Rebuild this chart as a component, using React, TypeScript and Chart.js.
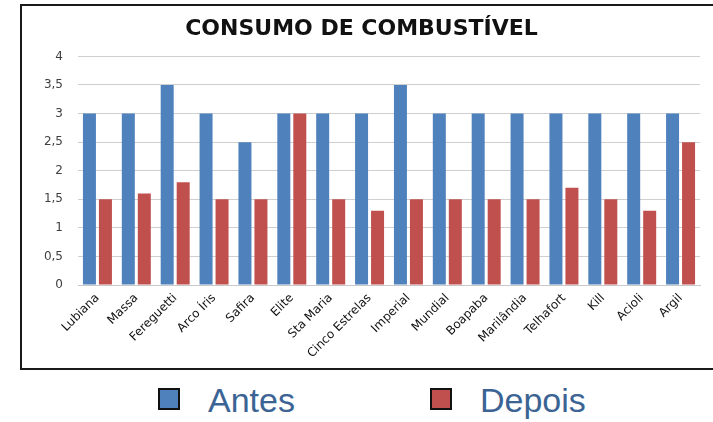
import React, { useEffect, useRef } from "react";
import { Chart, registerables } from "chart.js";

Chart.register(...registerables);

const categories = [
  "Lubiana", "Massa", "Fereguetti", "Arco Íris", "Safira", "Elite", "Sta Maria", "Cinco Estrelas",
  "Imperial", "Mundial", "Boapaba", "Marilândia", "Telhafort", "Kill", "Acioli", "Argil",
];
const antes = [3, 3, 3.5, 3, 2.5, 3, 3, 3, 3.5, 3, 3, 3, 3, 3, 3, 3];
const depois = [1.5, 1.6, 1.8, 1.5, 1.5, 3, 1.5, 1.3, 1.5, 1.5, 1.5, 1.5, 1.7, 1.5, 1.3, 2.5];
const seriesNames = ["Antes", "Depois"];
const seriesColors = ["#4F81BD", "#C0504D"];
const titleText = "CONSUMO DE COMBUSTÍVEL";

export default function App() {
  const ref = useRef<HTMLCanvasElement | null>(null);

  useEffect(() => {
    if (!ref.current) return;
    const chart = new Chart(ref.current, {
      type: "bar",
      data: {
        labels: categories,
        datasets: [
          {
            label: seriesNames[0],
            data: antes,
            backgroundColor: seriesColors[0],
            categoryPercentage: 0.823,
            barPercentage: 0.8125,
          },
          {
            label: seriesNames[1],
            data: depois,
            backgroundColor: seriesColors[1],
            categoryPercentage: 0.823,
            barPercentage: 0.8125,
          },
        ],
      },
      options: {
        animation: false,
        responsive: false,
        maintainAspectRatio: false,
        layout: { padding: { top: 0, left: 0, right: 13, bottom: 0 } },
        plugins: {
          legend: { display: false },
          tooltip: { enabled: false },
          title: {
            display: true,
            text: titleText,
            color: "#111111",
            font: { family: "'DejaVu Sans'", size: 22, weight: "bold" },
            padding: { top: 9, bottom: 14 },
          },
        },
        scales: {
          x: {
            grid: { display: false, drawTicks: false },
            border: { display: true, color: "#C8C8C8", width: 1 },
            ticks: {
              color: "#111111",
              font: { family: "'DejaVu Sans'", size: 12 },
              minRotation: 45,
              maxRotation: 45,
              autoSkip: false,
              padding: 6,
            },
            afterFit: (scale: any) => {
              scale.height = 83;
            },
          },
          y: {
            min: 0,
            max: 4,
            grid: { color: "#CFCFCF", lineWidth: 1, drawTicks: false },
            border: { display: false },
            ticks: {
              stepSize: 0.5,
              color: "#404040",
              padding: 15,
              font: { family: "'DejaVu Sans'", size: 12 },
              callback: (v: any) => String(v).replace(".", ","),
            },
            afterFit: (scale: any) => {
              scale.width = 55;
            },
          },
        },
      },
    });
    return () => chart.destroy();
  }, []);

  const legendText: React.CSSProperties = {
    position: "absolute",
    top: 380,
    fontFamily: "'Liberation Sans', sans-serif",
    fontSize: 34,
    color: "#3B6494",
    lineHeight: "40px",
    whiteSpace: "nowrap",
  };
  const sq = (left: number, color: string): React.CSSProperties => ({
    position: "absolute",
    left,
    top: 388,
    width: 18,
    height: 18,
    background: color,
    border: "2px solid #111",
  });

  return (
    <div style={{ position: "fixed", left: 0, top: 0, right: 0, bottom: 0, background: "#fff", overflow: "hidden" }}>
      <div
        style={{
          position: "absolute",
          left: 20,
          top: 4,
          right: -50,
          height: 362,
          borderTop: "2px solid #1a1a1a",
          borderLeft: "2px solid #1a1a1a",
          borderBottom: "2px solid #1a1a1a",
        }}
      />
      <canvas
        ref={ref}
        width={690}
        height={361}
        style={{ position: "absolute", left: 23, top: 7, width: 690, height: 361 }}
      />
      <div style={sq(158, seriesColors[0])} />
      <div style={{ ...legendText, left: 208 }}>{seriesNames[0]}</div>
      <div style={sq(430, seriesColors[1])} />
      <div style={{ ...legendText, left: 480 }}>{seriesNames[1]}</div>
    </div>
  );
}
